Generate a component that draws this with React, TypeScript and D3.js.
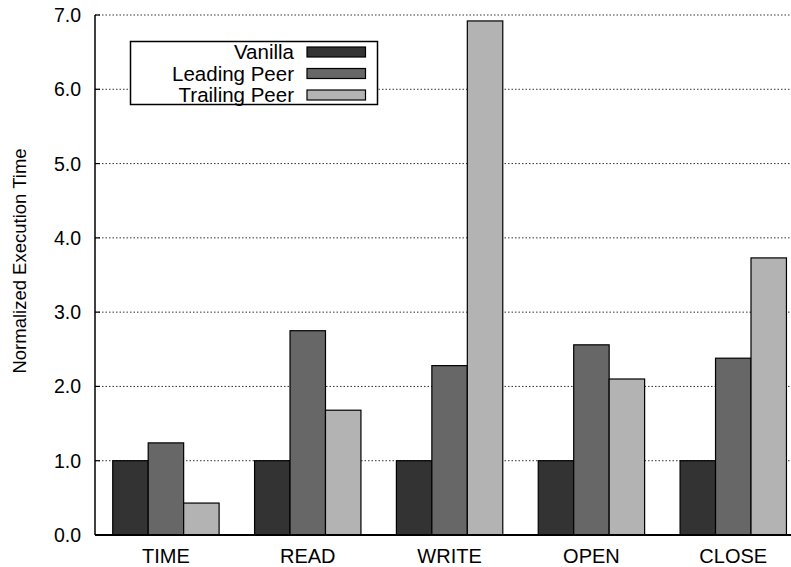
import React from 'react';
import * as d3 from 'd3';

const categories = ['TIME', 'READ', 'WRITE', 'OPEN', 'CLOSE'];
const seriesNames = ['Vanilla', 'Leading Peer', 'Trailing Peer'];
const vanilla = [1.0, 1.0, 1.0, 1.0, 1.0];
const leadingPeer = [1.24, 2.75, 2.28, 2.56, 2.38];
const trailingPeer = [0.43, 1.68, 6.92, 2.1, 3.73];
const yTicks = [0, 1, 2, 3, 4, 5, 6, 7];

const colors = ['#333333', '#676767', '#b3b3b3'];
const font = '"Liberation Sans", Arial, Helvetica, sans-serif';

const W = 791;
const H = 567;
const left = 95;
const right = 790;
const top = 15;
const bottom = 535;

export default function App() {
  const series = [vanilla, leadingPeer, trailingPeer];

  // gnuplot-like x range: groups at 0..4, range [-0.5, 4.4]
  const x = d3.scaleLinear().domain([-0.5, 4.4]).range([left, right]);
  const y = d3.scaleLinear().domain([0, 7]).range([bottom, top]);
  const barW = 0.25;

  return (
    <>
      <style>{'html,body{margin:0;padding:0;overflow:hidden;}'}</style>
      <svg width={W} height={H} style={{ display: 'block', position: 'absolute', left: 0, top: 0, background: '#fff' }}>
        {/* grid */}
        {yTicks.filter(t => t > 0).map(t => (
          <line key={'g' + t} x1={left} x2={right} y1={y(t)} y2={y(t)}
            stroke="#333" strokeWidth={1} strokeDasharray="1.5 2" />
        ))}

        {/* bars */}
        {categories.map((c, i) => (
          <g key={c}>
            {series.map((s, j) => {
              const x0 = x(i - 0.375 + j * barW);
              const x1 = x(i - 0.375 + (j + 1) * barW);
              return (
                <rect key={j} x={x0} y={y(s[i])} width={x1 - x0} height={y(0) - y(s[i])}
                  fill={colors[j]} stroke="#000" strokeWidth={1.2} />
              );
            })}
          </g>
        ))}

        {/* axes */}
        <line x1={left} x2={left} y1={top} y2={bottom} stroke="#000" strokeWidth={1.5} />
        <line x1={left} x2={W} y1={bottom} y2={bottom} stroke="#000" strokeWidth={2} />
        {yTicks.map(t => (
          <g key={'t' + t}>
            <line x1={left} x2={left + 5} y1={y(t)} y2={y(t)} stroke="#000" strokeWidth={1.2} />
            <text x={left - 14} y={y(t)} dy="0.36em" textAnchor="end"
              fontFamily={font} fontSize={19.5} fill="#000">{t.toFixed(1)}</text>
          </g>
        ))}
        {categories.map((c, i) => (
          <text key={'x' + c} x={x(i)} y={563} textAnchor="middle"
            fontFamily={font} fontSize={20} fill="#000">{c}</text>
        ))}
        <text transform="translate(26,261) rotate(-90)" textAnchor="middle"
          fontFamily={font} fontSize={18.5} fill="#000">Normalized Execution Time</text>

        {/* legend */}
        <rect x={130.5} y={41.5} width={247} height={63} fill="#fff" stroke="#000" strokeWidth={1.5} />
        {seriesNames.map((n, j) => (
          <g key={n}>
            <text x={294} y={52 + j * 21.5} dy="0.36em" textAnchor="end"
              fontFamily={font} fontSize={20.5} fill="#000">{n}</text>
            <rect x={307} y={47 + j * 21.5} width={58.5} height={10}
              fill={colors[j]} stroke="#000" strokeWidth={1.2} />
          </g>
        ))}
      </svg>
    </>
  );
}
